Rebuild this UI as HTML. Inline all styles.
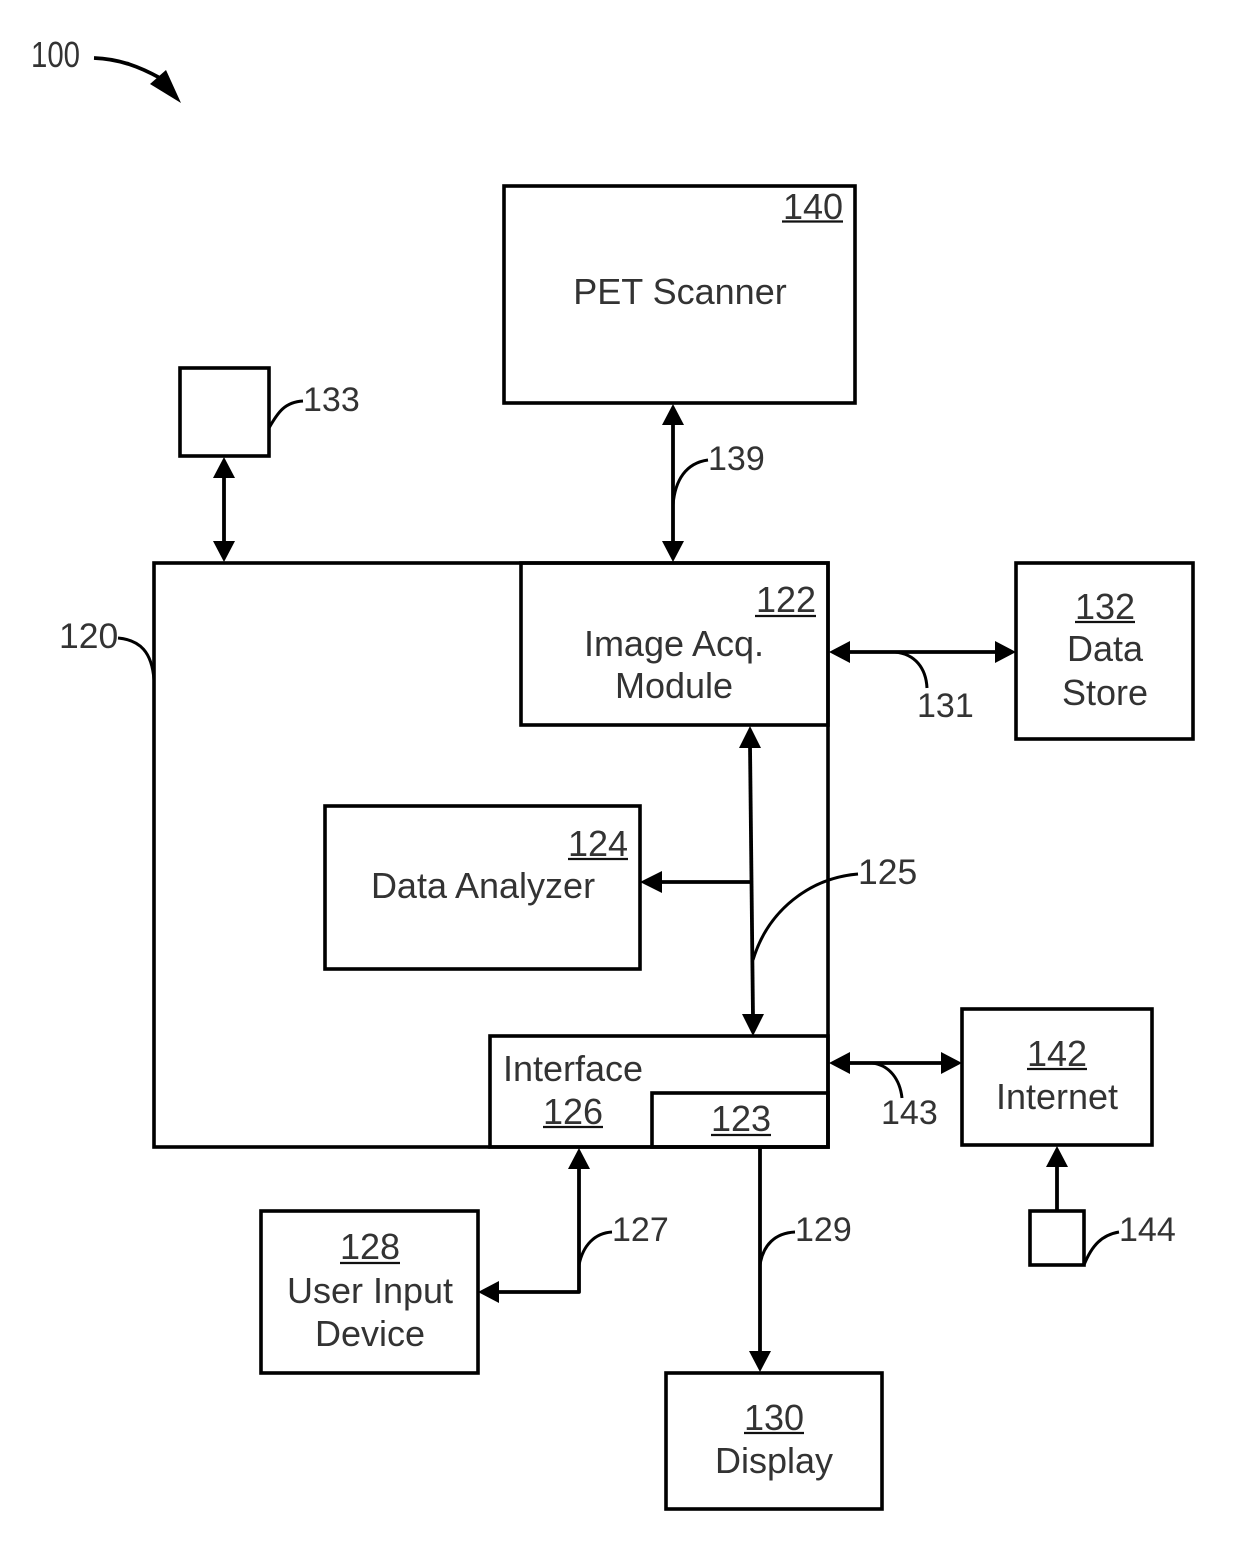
<!DOCTYPE html>
<html>
<head>
<meta charset="utf-8">
<style>
html,body{margin:0;padding:0;background:#fff;}
svg{display:block;}
text{font-family:"Liberation Sans",sans-serif;font-size:36px;fill:#333;}
text.n{font-size:34px;}
text.w{font-size:35.5px;}
.b{fill:none;stroke:#000;stroke-width:3.6;}
.l{fill:none;stroke:#000;stroke-width:3.8;stroke-linejoin:round;}
.c{fill:none;stroke:#000;stroke-width:3;}
.a{fill:#000;stroke:none;}
.m{text-anchor:middle;}
.u{stroke:#111;stroke-width:2.2;}
</style>
</head>
<body>
<svg width="1240" height="1559" viewBox="0 0 1240 1559" xmlns="http://www.w3.org/2000/svg">
<rect width="1240" height="1559" fill="#fff"/>

<!-- Boxes -->
<rect class="b" x="504" y="186" width="351" height="217"/>
<rect class="b" x="180" y="368" width="89" height="88"/>
<rect class="b" x="154" y="563" width="674" height="584"/>
<rect class="b" x="521" y="563" width="307" height="162"/>
<rect class="b" x="325" y="806" width="315" height="163"/>
<rect class="b" x="490" y="1036" width="338" height="111"/>
<rect class="b" x="652" y="1093" width="176" height="54"/>
<rect class="b" x="1016" y="563" width="177" height="176"/>
<rect class="b" x="962" y="1009" width="190" height="136"/>
<rect class="b" x="1030" y="1211" width="54" height="54"/>
<rect class="b" x="261" y="1211" width="217" height="162"/>
<rect class="b" x="666" y="1373" width="216" height="136"/>

<!-- Connectors -->
<line class="l" x1="224" y1="474" x2="224" y2="545"/>
<polygon class="a" points="224,457 213,478 235,478"/>
<polygon class="a" points="224,562 213,541 235,541"/>

<line class="l" x1="673" y1="420" x2="673" y2="545"/>
<polygon class="a" points="673,404 662,425 684,425"/>
<polygon class="a" points="673,562 662,541 684,541"/>

<line class="l" x1="845" y1="652" x2="1000" y2="652"/>
<polygon class="a" points="829,652 850,641 850,663"/>
<polygon class="a" points="1016,652 995,641 995,663"/>

<line class="l" x1="750" y1="745" x2="753" y2="1018"/>
<polygon class="a" points="750,726 739,748 761,748"/>
<polygon class="a" points="753,1036 742,1014 764,1014"/>

<line class="l" x1="658" y1="882" x2="751" y2="882"/>
<polygon class="a" points="640,882 662,871 662,893"/>

<line class="l" x1="845" y1="1063" x2="946" y2="1063"/>
<polygon class="a" points="829,1063 850,1052 850,1074"/>
<polygon class="a" points="962,1063 941,1052 941,1074"/>

<line class="l" x1="1057" y1="1165" x2="1057" y2="1211"/>
<polygon class="a" points="1057,1146 1046,1167 1068,1167"/>

<polyline class="l" points="579,1165 579,1292 495,1292"/>
<polygon class="a" points="579,1148 568,1169 590,1169"/>
<polygon class="a" points="478,1292 499,1281 499,1303"/>

<line class="l" x1="760" y1="1148" x2="760" y2="1355"/>
<polygon class="a" points="760,1372 749,1351 771,1351"/>

<!-- Leader curves -->
<path class="l" d="M94,58 C120,59 140,67 160,78"/>
<polygon class="a" points="181,103 150,84 166,70"/>
<path class="c" d="M269,428 C278,412 285,402 303,401"/>
<path class="c" d="M673,505 C675,480 686,463 708,460"/>
<path class="c" d="M118,638 C140,640 152,652 154,680"/>
<path class="c" d="M895,652 C915,654 926,668 927,688"/>
<path class="c" d="M753,960 C768,910 810,878 858,874"/>
<path class="c" d="M872,1063 C890,1065 900,1080 902,1098"/>
<path class="c" d="M579,1265 C583,1245 595,1233 612,1232"/>
<path class="c" d="M760,1265 C763,1245 775,1233 795,1232"/>
<path class="c" d="M1084,1265 C1092,1245 1102,1235 1119,1232"/>

<!-- Labels -->
<text x="31" y="67" textLength="49" lengthAdjust="spacingAndGlyphs">100</text>
<text x="783" y="219">140</text>
<line class="u" x1="782" y1="221.500" x2="843" y2="221.500"/>
<text class="m" x="680" y="304">PET Scanner</text>
<text class="n" x="303" y="411">133</text>
<text class="n" x="708" y="470">139</text>
<text class="w" x="59" y="648">120</text>
<text x="756" y="612">122</text>
<line class="u" x1="755" y1="616" x2="816" y2="616"/>
<text class="m" x="674" y="656">Image Acq.</text>
<text class="m" x="674" y="698">Module</text>
<text class="m" x="1105" y="619">132</text>
<line class="u" x1="1075" y1="622" x2="1135" y2="622"/>
<text class="m" x="1105" y="661">Data</text>
<text class="m" x="1105" y="705">Store</text>
<text class="n" x="917" y="717">131</text>
<text x="568" y="856">124</text>
<line class="u" x1="568" y1="859" x2="628" y2="859"/>
<text class="m" x="483" y="898">Data Analyzer</text>
<text class="w" x="858" y="884">125</text>
<text x="503" y="1081">Interface</text>
<text class="m" x="573" y="1124">126</text>
<line class="u" x1="543" y1="1127" x2="603" y2="1127"/>
<text class="m" x="741" y="1131">123</text>
<line class="u" x1="711" y1="1135" x2="771" y2="1135"/>
<text class="m" x="1057" y="1066">142</text>
<line class="u" x1="1027" y1="1069" x2="1087" y2="1069"/>
<text class="m" x="1057" y="1109">Internet</text>
<text class="n" x="881" y="1124">143</text>
<text class="n" x="1119" y="1241">144</text>
<text class="n" x="612" y="1241">127</text>
<text class="n" x="795" y="1241">129</text>
<text class="m" x="370" y="1259">128</text>
<line class="u" x1="340" y1="1263" x2="400" y2="1263"/>
<text class="m" x="370" y="1303">User Input</text>
<text class="m" x="370" y="1346">Device</text>
<text class="m" x="774" y="1430">130</text>
<line class="u" x1="744" y1="1433" x2="804" y2="1433"/>
<text class="m" x="774" y="1473">Display</text>
</svg>
</body>
</html>
